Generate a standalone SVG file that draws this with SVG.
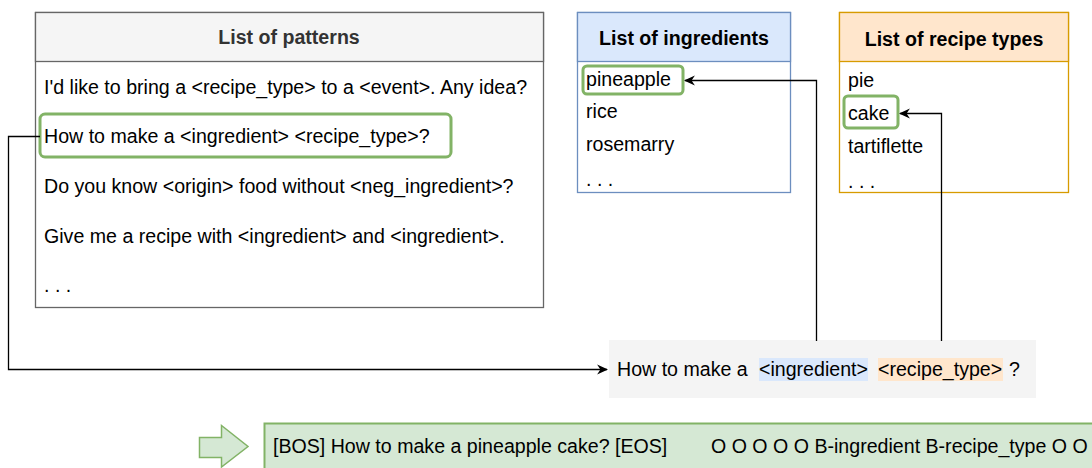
<svg xmlns="http://www.w3.org/2000/svg" width="1092" height="468" viewBox="0 0 1092 468">
<style>
text{font-family:"Liberation Sans",Arial,sans-serif;font-size:19.6px;fill:#000}
.title{font-weight:bold;text-anchor:middle}
.hl{fill:none;stroke:#82b366;stroke-width:3}
.conn{fill:none;stroke:#000;stroke-width:1.3}
</style>
<defs>
<marker id="ah" viewBox="0 0 10 10" refX="9" refY="5" markerWidth="11" markerHeight="11" markerUnits="userSpaceOnUse" orient="auto">
<path d="M0,0.5 L10,5 L0,9.5 L3,5 Z" fill="#000"/>
</marker>
</defs>
<rect width="1092" height="468" fill="#fff"/>
<g id="patterns">
<rect x="35.5" y="12.5" width="508" height="295" fill="#fff" stroke="#666" stroke-width="1.3"/>
<rect x="35.5" y="12.5" width="508" height="49" fill="#f5f5f5" stroke="#666" stroke-width="1.3"/>
<text class="title" x="289" y="44" style="fill:#333">List of patterns</text>
<text x="44" y="94">I'd like to bring a &lt;recipe_type&gt; to a &lt;event&gt;. Any idea?</text>
<rect class="hl" x="40" y="114" width="411" height="43" rx="5"/>
<text x="44" y="143">How to make a &lt;ingredient&gt; &lt;recipe_type&gt;?</text>
<text x="44" y="193">Do you know &lt;origin&gt; food without &lt;neg_ingredient&gt;?</text>
<text x="44" y="243">Give me a recipe with &lt;ingredient&gt; and &lt;ingredient&gt;.</text>
<text x="44" y="292">. . .</text>
</g>
<g id="ingredients">
<rect x="577.5" y="12.5" width="213" height="180" fill="#fff" stroke="#6c8ebf" stroke-width="1.3"/>
<rect x="577.5" y="12.5" width="213" height="49" fill="#dae8fc" stroke="#6c8ebf" stroke-width="1.3"/>
<text class="title" x="684" y="45">List of ingredients</text>
<rect class="hl" x="583" y="66" width="100" height="28" rx="4"/>
<text x="586" y="86">pineapple</text>
<text x="586" y="118">rice</text>
<text x="586" y="151">rosemarry</text>
<text x="586" y="186">. . .</text>
</g>
<g id="recipe_types">
<rect x="839.5" y="12.5" width="229" height="180" fill="#fff" stroke="#d79b00" stroke-width="1.3"/>
<rect x="839.5" y="12.5" width="229" height="49" fill="#ffe6cc" stroke="#d79b00" stroke-width="1.3"/>
<text class="title" x="954" y="46">List of recipe types</text>
<rect class="hl" x="844" y="96" width="54" height="32" rx="4"/>
<text x="848" y="87">pie</text>
<text x="848" y="120">cake</text>
<text x="848" y="153">tartiflette</text>
<text x="848" y="188">. . .</text>
</g>
<g id="template">
<rect x="609" y="340" width="427" height="58" fill="#f4f4f4"/>
<rect x="759" y="358" width="109" height="23" fill="#dae8fc"/>
<rect x="878" y="358" width="125" height="23" fill="#ffe6cc"/>
<text x="617" y="376">How to make a</text>
<text x="759" y="376">&lt;ingredient&gt;</text>
<text x="878" y="376">&lt;recipe_type&gt;</text>
<text x="1009" y="376">?</text>
</g>
<g id="connectors">
<path class="conn" d="M40,136.5 H8.5 V369.5 H607" marker-end="url(#ah)"/>
<path class="conn" d="M816.5,341 V80.5 H685" marker-end="url(#ah)"/>
<path class="conn" d="M941.5,341 V113.5 H900" marker-end="url(#ah)"/>
</g>
<g id="output_arrow">
<path d="M199.5,437.5 H221.5 V425.5 L248,446.5 L221.5,467 V457.5 H199.5 Z" fill="#d5e8d4" stroke="#82b366" stroke-width="1.5"/>
</g>
<g id="output">
<rect x="264.5" y="423.5" width="840" height="60" fill="#d5e8d4" stroke="#82b366" stroke-width="2"/>
<text x="273" y="453">[BOS] How to make a pineapple cake? [EOS]</text>
<text x="711" y="453">O O O O O B-ingredient B-recipe_type O O</text>
</g>
</svg>
